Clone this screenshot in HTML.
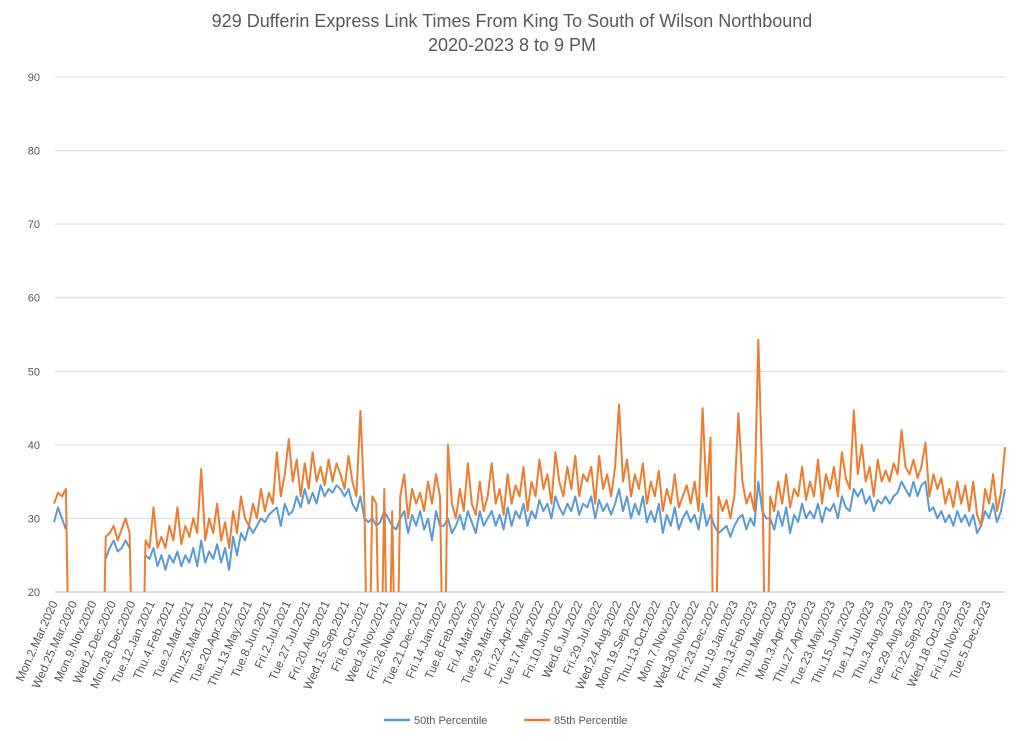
<!DOCTYPE html>
<html><head><meta charset="utf-8">
<style>
html,body{margin:0;padding:0;background:#fff;}
svg{display:block;font-family:"Liberation Sans",Arial,sans-serif;}
</style></head>
<body>
<svg id="chart" width="1024" height="741" viewBox="0 0 1024 741">
  <text x="512" y="27" text-anchor="middle" font-size="18" fill="#595959">929 Dufferin Express Link Times From King To South of Wilson Northbound</text>
  <text x="512" y="51" text-anchor="middle" font-size="18" fill="#595959">2020-2023 8 to 9 PM</text>
  <defs><clipPath id="plotclip"><rect x="40" y="60" width="980" height="532"/></clipPath></defs>
  <g id="grid"></g>
  <g id="yticks"></g>
  <g id="xticks"></g>
  <g id="series" clip-path="url(#plotclip)"></g>
  <g>
    <line x1="384" y1="720" x2="410" y2="720" stroke="#5b9bd5" stroke-width="2.5"/>
    <text x="414" y="724" font-size="11" fill="#595959">50th Percentile</text>
    <line x1="524" y1="720" x2="550" y2="720" stroke="#ed7d31" stroke-width="2.5"/>
    <text x="554" y="724" font-size="11" fill="#595959">85th Percentile</text>
  </g>
</svg>
<script>
const yTicks=[20,30,40,50,60,70,80,90];
const xLabels=["Mon.2.Mar.2020","Wed.25.Mar.2020","Mon.9.Nov.2020","Wed.2.Dec.2020","Mon.28.Dec.2020","Tue.12.Jan.2021","Thu.4.Feb.2021","Tue.2.Mar.2021","Thu.25.Mar.2021","Tue.20.Apr.2021","Thu.13.May.2021","Tue.8.Jun.2021","Fri.2.Jul.2021","Tue.27.Jul.2021","Fri.20.Aug.2021","Wed.15.Sep.2021","Fri.8.Oct.2021","Wed.3.Nov.2021","Fri.26.Nov.2021","Tue.21.Dec.2021","Fri.14.Jan.2022","Tue.8.Feb.2022","Fri.4.Mar.2022","Tue.29.Mar.2022","Fri.22.Apr.2022","Tue.17.May.2022","Fri.10.Jun.2022","Wed.6.Jul.2022","Fri.29.Jul.2022","Wed.24.Aug.2022","Mon.19.Sep.2022","Thu.13.Oct.2022","Mon.7.Nov.2022","Wed.30.Nov.2022","Fri.23.Dec.2022","Thu.19.Jan.2023","Mon.13.Feb.2023","Thu.9.Mar.2023","Mon.3.Apr.2023","Thu.27.Apr.2023","Tue.23.May.2023","Thu.15.Jun.2023","Tue.11.Jul.2023","Thu.3.Aug.2023","Tue.29.Aug.2023","Fri.22.Sep.2023","Wed.18.Oct.2023","Fri.10.Nov.2023","Tue.5.Dec.2023"];
const p85=[32,33.5,33,34,0,null,null,null,null,null,
null,null,0,27.5,28,29,27,28.5,30,28,
0,0,0,27,26,31.5,26,27.5,26,29,
27,31.5,26.5,29,27.5,30,28,36.7,27,30,
28,32,27,29.5,26,31,28,33,30,29,
32,30,34,31,33.5,32,39,33,36,40.8,
35,38,33,37.5,34,39,35,37,34.5,38,
35,37.5,36,34,38.5,35,33,44.6,32,0,
33,32,0,34,0,31,0,33,36,30,
34,32,33.5,31,35,32,36,33,0,40,
32,30,34,31,37.5,32,30.5,35,31,33,
37.5,32,34,30.5,36,32,34.5,33,37,31,
35,33,38,34,36,32,39,35,33,37,
34,38.5,33,36,35,37,32,38.5,34,36,
33,37,45.5,35,38,33,36,34,37.5,32,
35,33,36.5,31,34,32,36,31.5,33,34.5,
32,35,31,45,33,41,0,33,31,32.5,
30,33,44.3,35,32,33.5,31,54.3,36,0,
33,31,35,32,36,31.5,34,33,37,32.5,
35,33,38,32,36,34,37,33,39,35.5,
34,44.7,36,40,35,37,33,38,35,36.5,
35,37.5,36,42,37,36,38,35.5,37,40.3,
33,36,34,35.5,32,34,31.5,35,32,34.5,
31,35,30.5,29,34,32,36,31,33.5,39.7];
const p50=[29.5,31.5,30,28.5,null,null,null,null,null,null,
null,null,null,24.5,26,27,25.5,26,27,26,
null,null,null,25,24.5,26,23.5,25,23,25,
24,25.5,23.5,25,24,26,23.5,27,24,25.5,
24.5,26.5,24,26,23,27.5,25,28,27,29,
28,29,30,29.5,30.5,31,31.5,29,32,30.5,
31,33,31.5,34,32,33.5,32,34.5,33,34,
33.5,34.5,34,33,34,32,31,33,30,29.5,
30,29,29.5,31,30,29,28.5,30,31,28,
30.5,29,31,28.5,30,27,31,29,29,30,
28,29,30.5,28.5,31,29.5,28,31,29,30,
31,29,30.5,28.5,31.5,29,31,30,32,29,
31,30,32.5,31,32,30,33,31.5,30.5,32,
31,33,30.5,32,31.5,33,30,32.5,31,32,
30.5,32,34,31,33,30,32,30.5,33,29.5,
31,29.5,32,28,30.5,29,31.5,28.5,30,31,
29.5,30.5,28.5,32,29,30.5,29,28,28.5,29,
27.5,29,30,30.5,28.5,30,29,35,31,30,
30,28.5,31,29,31.5,28,30.5,29.5,32,30,
31,30,32,29.5,31.5,31,32,30,33,31.5,
31,34,33,34,32,33,31,32.5,32,33,
32,33,33.5,35,34,33,35,33,34.5,35,
31,31.5,30,31,29.5,30.5,29,31,29.5,30.5,
29,30.5,28,29,31,30,32,29.5,31,34];

const NS="http://www.w3.org/2000/svg";
const X0=54,X1=1005,Y0=592,Ymin=20,Ymax=90,Ytop=77;
function yScale(v){return Y0-(v-Ymin)/(Ymax-Ymin)*(Y0-Ytop);}
function xScale(i,n){return X0+i*(X1-X0)/(n-1);}
function mk(tag,attrs){const e=document.createElementNS(NS,tag);for(const k in attrs)e.setAttribute(k,attrs[k]);return e;}

const grid=document.getElementById('grid'),yt=document.getElementById('yticks');
yTicks.forEach(v=>{
  const l=mk('line',{x1:55,x2:1005,y1:yScale(v),y2:yScale(v),stroke:v===20?'#bfbfbf':'#d9d9d9','stroke-width':1});
  
  
  grid.appendChild(l);
  const t=mk('text',{x:40,y:yScale(v)+4,'text-anchor':'end','font-size':11,fill:'#595959'});
  t.textContent=v;
  
  
  yt.appendChild(t);
});

const xt=document.getElementById('xticks');
xLabels.forEach((s,k)=>{
  const x=55+k*(988-55)/(xLabels.length-1);
  const t=mk('text',{x:0,y:0,'text-anchor':'end','font-size':12,fill:'#595959',transform:`translate(${x+3},${603}) rotate(-66)`});
  t.textContent=s;
  
  
  xt.appendChild(t);
});

function drawSeries(vals,color,name){
  const n=vals.length;let d='',pen=false;
  vals.forEach((v,i)=>{
    if(v===null){pen=false;return;}
    d+=(pen?'L':'M')+xScale(i,n).toFixed(1)+','+yScale(v).toFixed(1);pen=true;
  });
  const p=mk('path',{d:d,fill:'none',stroke:color,'stroke-width':2,'stroke-linejoin':'round'});
  
  
  document.getElementById('series').appendChild(p);
}
drawSeries(p50,'#5b9bd5','series-50th-percentile');
drawSeries(p85,'#ed7d31','series-85th-percentile');
</script>
</body></html>
